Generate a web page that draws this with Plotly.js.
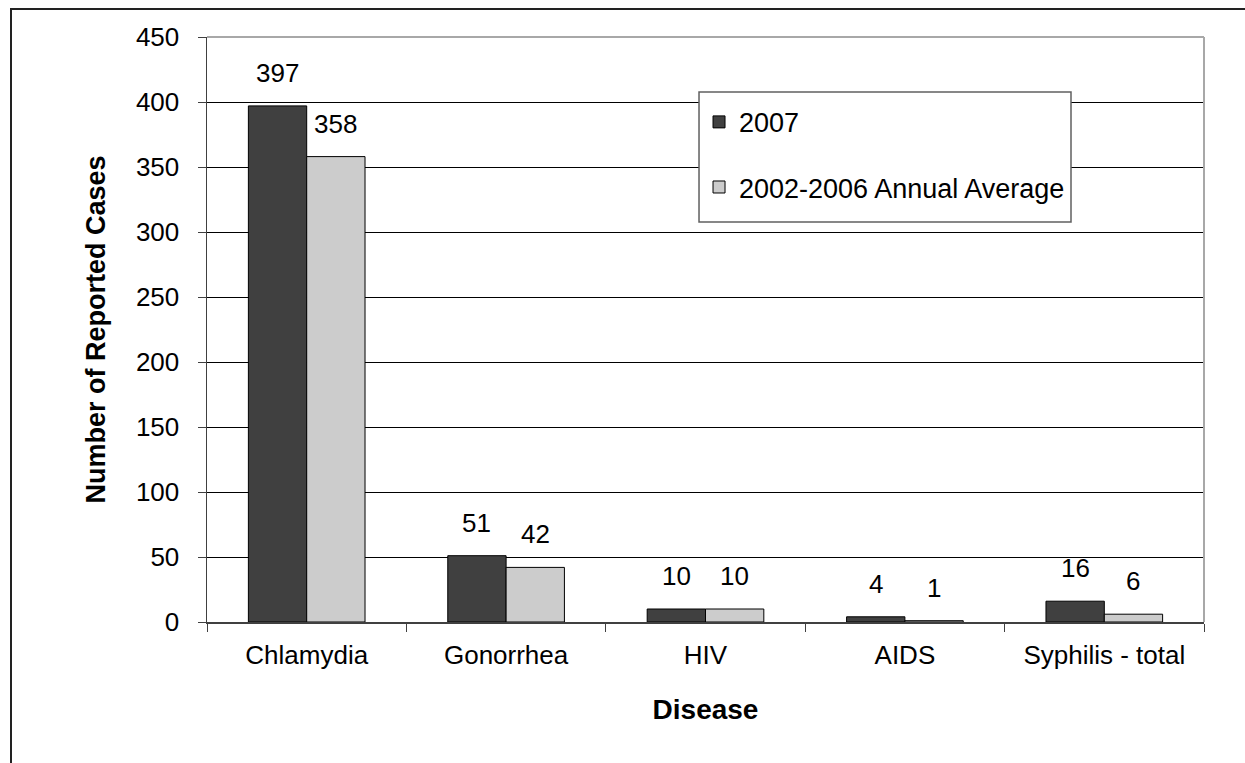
<!DOCTYPE html>
<html>
<head>
<meta charset="utf-8">
<script src="https://cdn.plot.ly/plotly-3.0.1.min.js"></script>
<style>
  html, body { margin: 0; padding: 0; background: #ffffff; }
  #wrap { position: relative; width: 1245px; height: 763px; overflow: hidden; }
  #frame { position: absolute; left: 10px; top: 8px; width: 1260px; height: 780px;
           border-left: 2px solid #222; border-top: 2px solid #222; box-sizing: border-box; }
  #chart { position: absolute; left: 0; top: 0; width: 1245px; height: 763px; }
</style>
</head>
<body>
<div id="wrap">
  <div id="frame"></div>
  <div id="chart"></div>
</div>
<script>
const categories = ['Chlamydia', 'Gonorrhea', 'HIV', 'AIDS', 'Syphilis - total'];
const seriesNames = ['2007', '2002-2006 Annual Average'];
const values2007 = [397, 51, 10, 4, 16];
const valuesAvg = [358, 42, 10, 1, 6];
const yTicks = [0, 50, 100, 150, 200, 250, 300, 350, 400, 450];

const FONT = 'Arial, "Liberation Sans", sans-serif';
const BARGAP = 0.415;
const half = (1 - BARGAP) / 4;

const traces = [
  { type: 'bar', name: seriesNames[0], x: categories, y: values2007,
    marker: { color: '#404040', line: { color: '#000000', width: 1 } },
    legendgroup: 'a', hoverinfo: 'skip' },
  { type: 'bar', name: seriesNames[1], x: categories, y: valuesAvg,
    marker: { color: '#cccccc', line: { color: '#000000', width: 1 } },
    legendgroup: 'b', hoverinfo: 'skip' }
];

const annotations = [];
[values2007, valuesAvg].forEach((vals, s) => {
  vals.forEach((v, i) => {
    annotations.push({
      x: i + (s === 0 ? -half : half), y: v, xref: 'x', yref: 'y',
      text: String(v), showarrow: false, yanchor: 'middle', yshift: 33,
      font: { family: FONT, size: 26, color: '#000' }
    });
  });
});

const layout = {
  width: 1245, height: 763,
  margin: { l: 207, r: 41, t: 37, b: 141, pad: 0 },
  paper_bgcolor: 'rgba(0,0,0,0)', plot_bgcolor: '#ffffff',
  font: { family: FONT, size: 26, color: '#000' },
  barmode: 'group', bargap: BARGAP, bargroupgap: 0,
  showlegend: true,
  legend: {
    x: 0.4935, y: 0.896, xanchor: 'left', yanchor: 'top',
    bgcolor: 'rgba(0,0,0,0)', borderwidth: 0,
    traceorder: 'grouped', tracegroupgap: 27,
    font: { family: FONT, size: 27, color: '#000' }
  },
  xaxis: {
    type: 'category', tickson: 'boundaries', ticks: 'outside', ticklen: 8,
    tickcolor: '#404040', tickwidth: 1,
    showline: true, linecolor: '#404040', linewidth: 1.5,
    showgrid: false, zeroline: false, fixedrange: true,
    tickfont: { family: FONT, size: 26 }, ticklabelstandoff: 9,
    title: { text: '<b>Disease</b>', font: { family: FONT, size: 28 }, standoff: 30 }
  },
  yaxis: {
    range: [0, 450], tickvals: yTicks, ticktext: yTicks.map(String),
    ticks: 'outside', ticklen: 8, tickcolor: '#404040', tickwidth: 1,
    showline: true, linecolor: '#404040', linewidth: 1.5,
    showgrid: true, gridcolor: '#000000', gridwidth: 1,
    zeroline: false, fixedrange: true,
    tickfont: { family: FONT, size: 26 }, ticklabelstandoff: 13,
    title: { text: '<b>Number of Reported Cases</b>', font: { family: FONT, size: 27 }, standoff: 22 }
  },
  shapes: [
    { type: 'line', xref: 'paper', yref: 'paper', x0: 0, x1: 1, y0: 1, y1: 1,
      line: { color: '#a8a8a8', width: 2 }, layer: 'above' },
    { type: 'line', xref: 'paper', yref: 'paper', x0: 1, x1: 1, y0: 0, y1: 1,
      line: { color: '#a8a8a8', width: 2 }, layer: 'above' },
    { type: 'rect', xref: 'paper', yref: 'paper', x0: 0.4935, x1: 0.8666, y0: 0.6838, y1: 0.906,
      fillcolor: '#ffffff', line: { color: '#606060', width: 1.5 }, layer: 'above' }
  ],
  annotations: annotations
};

Plotly.newPlot('chart', traces, layout, { displayModeBar: false, staticPlot: true });
</script>
</body>
</html>
